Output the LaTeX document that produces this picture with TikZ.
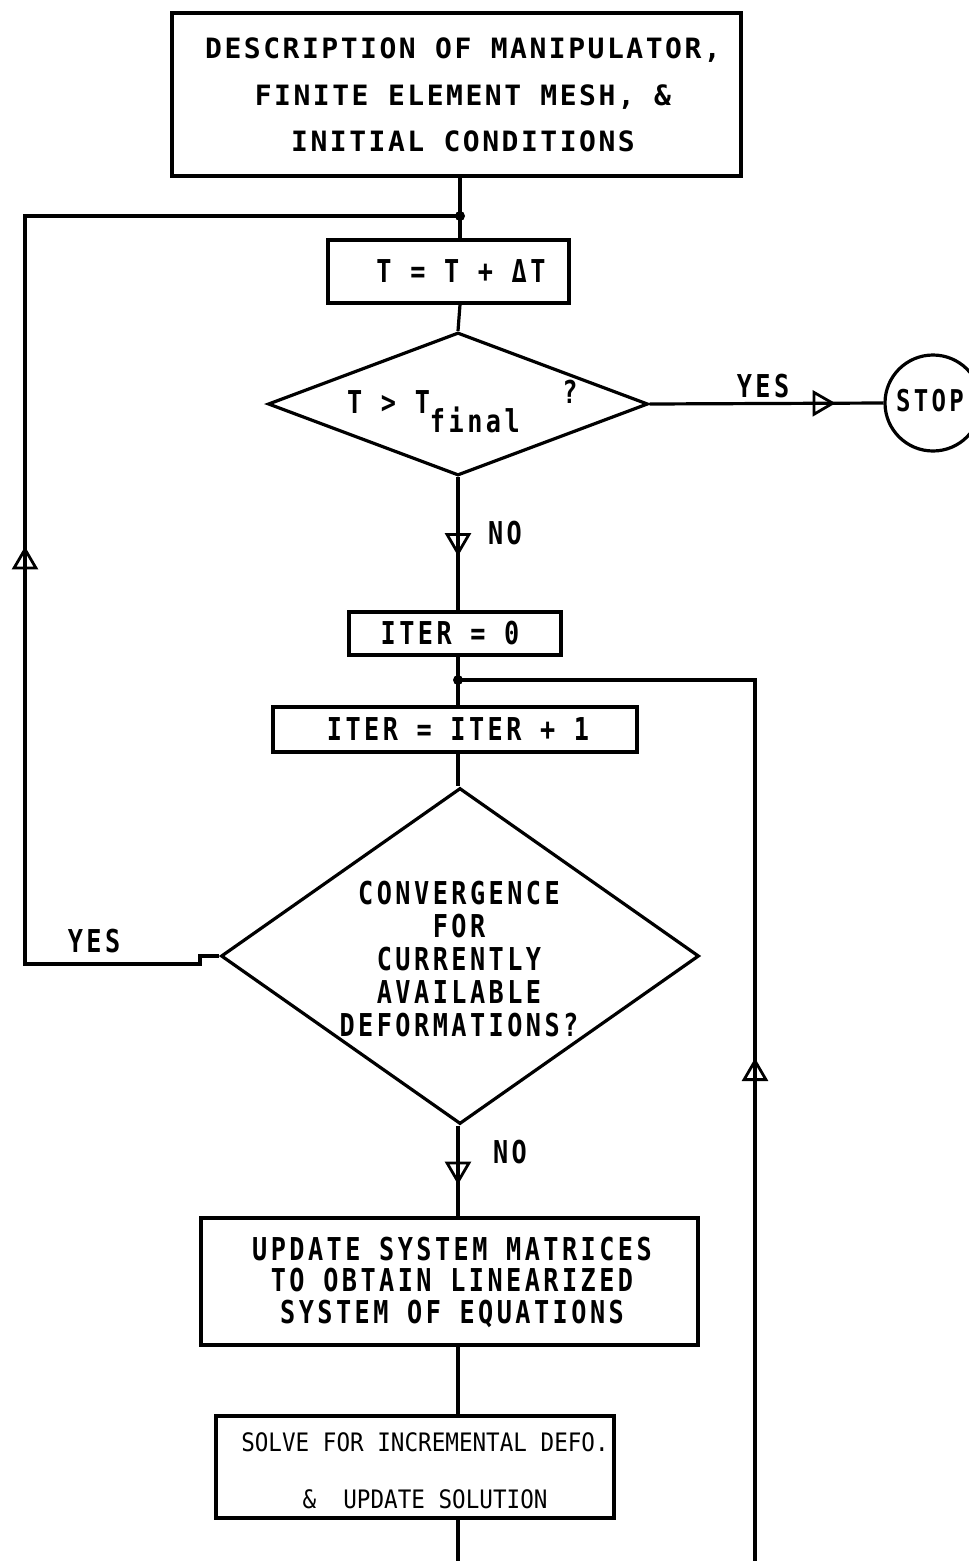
\documentclass[tikz,border=0pt]{standalone}
\usepackage{fontspec}
\newfontfamily\fa[LetterSpace=9]{DejaVu Sans Mono Bold}
\newfontfamily\fb[FakeStretch=0.8,LetterSpace=11]{DejaVu Sans Mono Bold}
\newfontfamily\fcn[FakeStretch=0.89]{DejaVu Sans Mono}
\usetikzlibrary{arrows.meta,shapes.geometric,decorations.markings}
\tikzset{
  box/.style={draw, rectangle, inner sep=0pt, line width=3.2pt},
  dmd/.style={draw, diamond, inner sep=0pt, line width=3.2pt},
  txta/.style={font=\fa\fontsize{28}{46.5}\selectfont, align=center, inner sep=0pt},
  txt/.style={font=\fb\fontsize{31.5}{33}\selectfont, align=center, inner sep=0pt},
  conn/.style={line width=3.2pt},
  midarrow/.style={postaction={decorate},
    decoration={markings, mark=at position #1 with {\arrow{Triangle[open,length=23pt,width=26pt,line width=2.8pt]}}}},
  dot/.style={circle, fill, inner sep=0pt, minimum size=10pt}
}
\begin{document}
\begin{tikzpicture}[x=1pt,y=-1pt]
\useasboundingbox (0,0) rectangle (969,1561);
% boxes
\node[box, minimum width=569pt, minimum height=163pt] (desc) at (456.5,94.5) {};
\node[txta] (desct) at (463,95) {DESCRIPTION OF MANIPULATOR,\\FINITE ELEMENT MESH, \&\\INITIAL CONDITIONS};
\node[box, minimum width=241pt, minimum height=63pt] (tinc) at (448.5,271.5) {};
\node[txt] (tinct) at (461,271) {T = T + ΔT};
\node[dmd, minimum width=380pt, minimum height=143pt] (d1) at (458,404) {};
\node[txt, anchor=base west] (d1t) at (347,413) {T > T\raisebox{-19pt}{final}};
\node[txt, font=\fb\fontsize{31.5}{31.5}\selectfont] (d1q) at (570,392) {?};
\node[draw, circle, line width=3.2pt, minimum size=96pt, inner sep=0pt] (stop) at (933,403) {};
\node[txt, font=\fb\fontsize{30}{30}\selectfont] (stopt) at (930,401) {STOP};
\node[box, minimum width=212pt, minimum height=43pt] (iter0) at (455,633.5) {};
\node[txt] (iter0t) at (450,633) {ITER = 0};
\coordinate (j2) at (458,680);
\coordinate (j1) at (460,216);
\node[box, minimum width=364pt, minimum height=45pt] (iter1) at (455,729.5) {};
\node[txt] (iter1t) at (458,729) {ITER = ITER + 1};
\node[dmd, minimum width=478pt, minimum height=336pt] (d2) at (460,956) {};
\node[txt] (d2t) at (459,959) {CONVERGENCE\\FOR\\CURRENTLY\\AVAILABLE\\DEFORMATIONS?};
\node[box, minimum width=497pt, minimum height=127pt] (upd) at (449.5,1281.5) {};
\node[txt, font=\fb\fontsize{31.5}{31.5}\selectfont] (updt) at (452,1282) {UPDATE SYSTEM MATRICES\\TO OBTAIN LINEARIZED\\SYSTEM OF EQUATIONS};
\node[box, minimum width=398pt, minimum height=102pt] (solve) at (415,1467) {};
\node[font=\fcn\fontsize{25.4}{57}\selectfont, align=center, inner sep=0pt] (solvet) at (425,1471) {SOLVE FOR INCREMENTAL DEFO.\\\&\ \ UPDATE SOLUTION};
% labels
\node[txt] (yes1) at (763,386) {YES};
\node[txt] (yes2) at (94,941) {YES};
\node[txt] (no1) at (505,533) {NO};
\node[txt] (no2) at (510,1152) {NO};
% connectors
\coordinate (bot1) at (458,1561);
\coordinate (bot2) at (755,1561);
\coordinate (rc) at (755,680);
\coordinate (lc1) at (200,956);
\coordinate (lc2) at (200,964);
\coordinate (lc3) at (25,964);
\coordinate (lc4) at (25,216);
\draw[conn] (desc.south -| j1) -- (j1) -- (tinc.north -| j1);
\draw[conn] (tinc.south -| j1) -- (d1.north);
\draw[conn, midarrow=186pt] (d1.east) -- (stop.west);
\draw[conn, midarrow=79pt] (d1.south -| j2) -- (iter0.north -| j2);
\draw[conn] (iter0.south -| j2) -- (j2) -- (iter1.north -| j2);
\draw[conn] (iter1.south -| j2) -- (d2.north -| j2);
\draw[conn, midarrow=59pt] (d2.south -| j2) -- (upd.north -| j2);
\draw[conn] (upd.south -| j2) -- (solve.north -| j2);
\draw[conn] (solve.south -| j2) -- (bot1);
\draw[conn, midarrow=620pt] (d2.west) -- (lc1) -- (lc2) -- (lc3) -- (lc4) -- (j1);
\draw[conn, midarrow=503pt] (bot2) -- (rc) -- (j2);
\node[dot] (dot1) at (j1) {};
\node[dot] (dot2) at (j2) {};
\end{tikzpicture}
\end{document}
